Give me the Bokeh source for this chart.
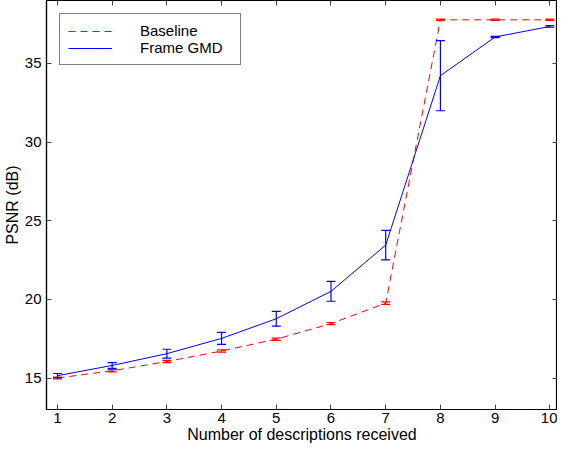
from bokeh.plotting import figure
from bokeh.models import (ColumnDataSource, FixedTicker, LinearAxis,
                          Range1d, Legend, LegendItem, CustomJSTickFormatter)
from bokeh.embed import file_html
from bokeh.resources import INLINE

# ---- data ----
descriptions = [1, 2, 3, 4, 5, 6, 7, 8, 9, 10]
baseline = [15.0, 15.46, 16.05, 16.72, 17.47, 18.46, 19.76, 37.77, 37.77, 37.77]
baseline_err = [0.06, 0.07, 0.07, 0.07, 0.07, 0.07, 0.08, 0.04, 0.04, 0.04]
frame_gmd = [15.15, 15.8, 16.55, 17.52, 18.77, 20.51, 23.45, 34.22, 36.68, 37.35]
frame_gmd_err = [0.14, 0.18, 0.28, 0.38, 0.47, 0.63, 0.94, 2.23, 0.04, 0.05]
x_ticks = [1, 2, 3, 4, 5, 6, 7, 8, 9, 10]
y_ticks = [15, 20, 25, 30, 35]

FONT = "Liberation Sans"
TICK_FS = "15px"
LABEL_FS = "16px"
RED = "#ff0000"
BLUE = "#0000ff"
DASH = "7 5"

p = figure(width=557, height=445, output_backend="svg", toolbar_location=None,
           x_range=Range1d(0.8, 10.14), y_range=Range1d(13, 39),
           min_border_left=42, min_border_right=0, min_border_top=0, min_border_bottom=0)
p.grid.visible = False
p.outline_line_color = "black"
p.outline_line_width = 1.2

src_b = ColumnDataSource(dict(x=descriptions, y=baseline,
                              lo=[v - e for v, e in zip(baseline, baseline_err)],
                              hi=[v + e for v, e in zip(baseline, baseline_err)]))
src_f = ColumnDataSource(dict(x=descriptions, y=frame_gmd,
                              lo=[v - e for v, e in zip(frame_gmd, frame_gmd_err)],
                              hi=[v + e for v, e in zip(frame_gmd, frame_gmd_err)]))

rb = p.line("x", "y", source=src_b, line_color=RED, line_width=1, line_dash=DASH)
rf = p.line("x", "y", source=src_f, line_color=BLUE, line_width=1)

# error bars: stems + caps
for src, col in ((src_b, RED), (src_f, BLUE)):
    p.segment(x0="x", y0="lo", x1="x", y1="hi", source=src, line_color=col, line_width=1.2)
    p.scatter(x="x", y="lo", source=src, marker="dash", size=9, line_color=col, line_width=1.2)
    p.scatter(x="x", y="hi", source=src, marker="dash", size=9, line_color=col, line_width=1.2)

def style_axis(ax, ticks):
    ax.ticker = FixedTicker(ticks=ticks)
    ax.minor_tick_line_color = None
    ax.major_tick_in = 5
    ax.major_tick_out = 0
    ax.major_tick_line_color = "#444444"
    ax.axis_line_color = "black"
    ax.axis_line_width = 1.2
    ax.major_label_text_font = FONT
    ax.major_label_text_font_size = TICK_FS
    ax.major_label_text_color = "black"
    ax.axis_label_text_font = FONT
    ax.axis_label_text_font_size = LABEL_FS
    ax.axis_label_text_font_style = "normal"
    ax.axis_label_text_color = "black"

style_axis(p.xaxis[0], x_ticks)
style_axis(p.yaxis[0], y_ticks)
p.xaxis[0].axis_label = "Number of descriptions received"
p.xaxis[0].major_label_standoff = 3
p.xaxis[0].axis_label_standoff = 0
p.yaxis[0].axis_label = "PSNR (dB)"
p.yaxis[0].major_label_standoff = 5
p.yaxis[0].axis_label_standoff = 1

blank = CustomJSTickFormatter(code="return ''")
top = LinearAxis()
right = LinearAxis()
for ax, t in ((top, x_ticks), (right, y_ticks)):
    style_axis(ax, t)
    ax.formatter = blank
    ax.major_label_standoff = 0
    ax.axis_label_standoff = 0
    ax.major_label_text_font_size = "0px"
p.add_layout(top, "above")
p.add_layout(right, "right")

legend = Legend(items=[LegendItem(label="Baseline", renderers=[rb]),
                       LegendItem(label="Frame GMD", renderers=[rf])],
                location="top_left")
legend.margin = 13
legend.padding = 8
legend.spacing = 0
legend.glyph_width = 44
legend.glyph_height = 16
legend.label_height = 16
legend.label_width = 92
legend.label_standoff = 28
legend.label_text_font = FONT
legend.label_text_font_size = TICK_FS
legend.label_text_color = "black"
legend.border_line_color = "black"
legend.border_line_width = 1.2
legend.background_fill_alpha = 1
p.add_layout(legend, "center")

open("out.html", "w").write(file_html(p, INLINE))
